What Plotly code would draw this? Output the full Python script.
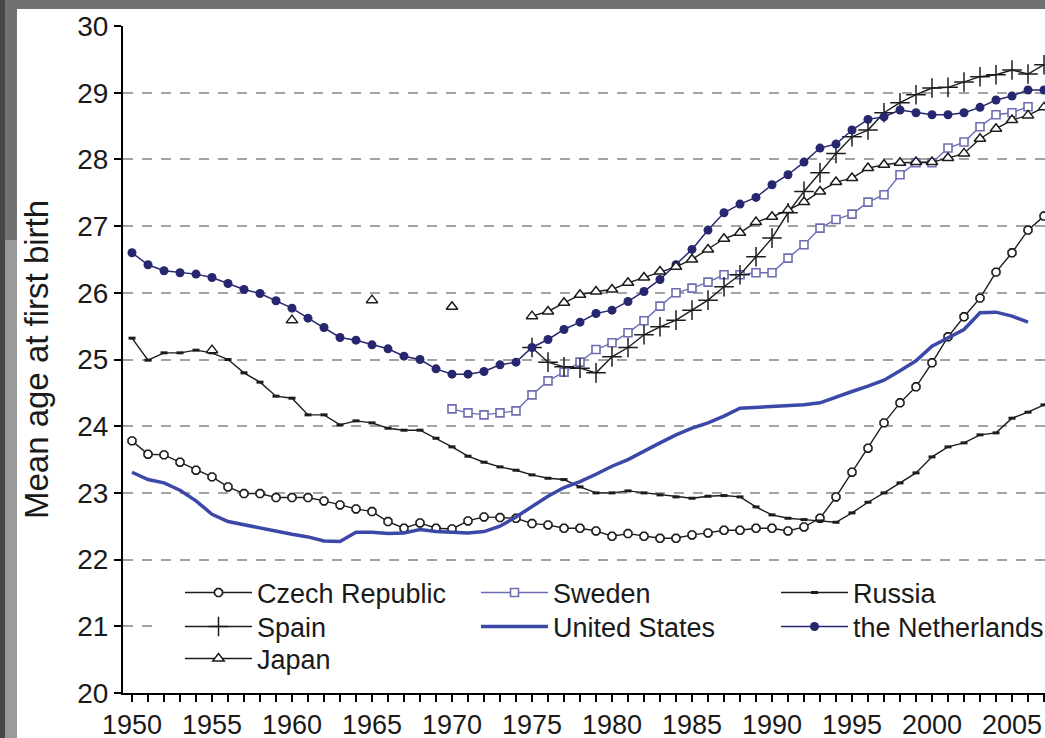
import plotly.graph_objects as go

# Mean age of mothers at first birth, by country
years = list(range(1950, 2008))

czech = [23.78, 23.58, 23.57, 23.46, 23.34, 23.24, 23.09, 22.99, 22.99, 22.93,
         22.93, 22.93, 22.88, 22.82, 22.76, 22.72, 22.57, 22.47, 22.55, 22.47,
         22.46, 22.58, 22.64, 22.63, 22.62, 22.54, 22.52, 22.47, 22.47, 22.43,
         22.35, 22.39, 22.35, 22.32, 22.32, 22.37, 22.40, 22.44, 22.44, 22.47,
         22.47, 22.43, 22.49, 22.62, 22.94, 23.31, 23.67, 24.05, 24.35, 24.59,
         24.95, 25.34, 25.64, 25.92, 26.31, 26.60, 26.94, 27.15]

sweden_years = list(range(1970, 2007))
sweden = [24.26, 24.20, 24.17, 24.20, 24.23, 24.47, 24.68, 24.81, 24.96, 25.15,
          25.25, 25.40, 25.58, 25.80, 26.00, 26.07, 26.16, 26.27, 26.27, 26.30,
          26.30, 26.52, 26.72, 26.97, 27.10, 27.18, 27.36, 27.47, 27.77, 27.95,
          27.95, 28.17, 28.26, 28.49, 28.67, 28.70, 28.79]

russia = [25.32, 24.99, 25.10, 25.10, 25.14, 25.10, 25.00, 24.80, 24.66, 24.45,
          24.42, 24.17, 24.17, 24.02, 24.08, 24.05, 23.97, 23.94, 23.94, 23.82,
          23.69, 23.55, 23.46, 23.39, 23.34, 23.27, 23.22, 23.20, 23.09, 23.00,
          23.00, 23.03, 23.00, 22.97, 22.94, 22.92, 22.95, 22.96, 22.94, 22.79,
          22.67, 22.62, 22.60, 22.58, 22.56, 22.70, 22.86, 23.00, 23.15, 23.30,
          23.54, 23.69, 23.75, 23.87, 23.90, 24.12, 24.21, 24.32]

spain_years = list(range(1975, 2008))
spain = [25.18, 24.96, 24.89, 24.87, 24.80, 25.04, 25.18, 25.37, 25.49, 25.59,
         25.74, 25.89, 26.09, 26.27, 26.54, 26.82, 27.20, 27.52, 27.80, 28.09,
         28.34, 28.44, 28.70, 28.85, 28.97, 29.07, 29.08, 29.16, 29.24, 29.27,
         29.34, 29.28, 29.42]

us_years = list(range(1950, 2007))
united_states = [23.31, 23.20, 23.15, 23.04, 22.88, 22.68, 22.57, 22.52, 22.47, 22.42,
                 22.38, 22.34, 22.28, 22.27, 22.41, 22.41, 22.39, 22.40, 22.45, 22.42,
                 22.41, 22.40, 22.42, 22.50, 22.64, 22.80, 22.95, 23.08, 23.17, 23.28,
                 23.40, 23.50, 23.63, 23.75, 23.87, 23.97, 24.05, 24.15, 24.27, 24.28,
                 24.30, 24.31, 24.32, 24.35, 24.44, 24.52, 24.60, 24.69, 24.83, 24.98,
                 25.20, 25.33, 25.45, 25.70, 25.71, 25.65, 25.56]

netherlands = [26.60, 26.42, 26.33, 26.30, 26.28, 26.23, 26.14, 26.05, 25.99, 25.88,
               25.77, 25.62, 25.48, 25.33, 25.29, 25.22, 25.16, 25.05, 25.00, 24.86,
               24.78, 24.78, 24.82, 24.92, 24.96, 25.18, 25.30, 25.45, 25.56, 25.69,
               25.74, 25.87, 26.02, 26.20, 26.42, 26.65, 26.94, 27.20, 27.33, 27.43,
               27.62, 27.77, 27.96, 28.17, 28.23, 28.44, 28.60, 28.64, 28.74, 28.70,
               28.67, 28.67, 28.70, 28.78, 28.89, 28.95, 29.04, 29.04]

# Japan: quinquennial observations before 1975, annual afterwards
japan_years = [1955, 1956, 1960, 1961, 1965, 1966, 1970, 1971] + list(range(1975, 2008))
japan = [25.14, None, 25.59, None, 25.89, None, 25.79, None,
         25.65, 25.72, 25.85, 25.97, 26.02, 26.05, 26.15, 26.23, 26.32, 26.39,
         26.50, 26.65, 26.81, 26.90, 27.06, 27.14, 27.24, 27.36, 27.52, 27.66,
         27.72, 27.87, 27.92, 27.95, 27.96, 27.96, 28.02, 28.09, 28.31, 28.46,
         28.59, 28.66, 28.78]

BLACK = "#1c1c1c"
NAVY = "#26276f"
SWEDE = "#6d6db4"
USBLUE = "#3b48a8"

W, H = 1045, 738
ML, MT, MB, MR = 123, 26, 45, 0
pw, ph = W - ML - MR, H - MT - MB
X0 = 1950 - 9 / 16
X1 = 1950 + (W - 132) / 16


def px_x(v):
    return (v - ML) / pw


def px_y(v):
    return (H - MB - v) / ph


def data_x(v):
    return X0 + (X1 - X0) * px_x(v)


def data_y(v):
    return 20 + 10 * px_y(v)


# legend key grid: three columns, three rows (pixel anchors of the text)
col_text = [257, 553, 853]
row_mid = [593, 627, 659]
key_slots = {
    "legend": (0, 0), "legend2": (1, 0), "legend3": (2, 0),
    "legend4": (0, 1), "legend5": (1, 1), "legend6": (2, 1),
    "legend7": (0, 2),
}

fig = go.Figure()

fig.add_trace(go.Scatter(
    x=years, y=czech, name="Czech Republic", mode="lines+markers", legend="legend",
    line=dict(color=BLACK, width=1.4),
    marker=dict(symbol="octagon", size=8.5, color="white", line=dict(color=BLACK, width=1.6))))
fig.add_trace(go.Scatter(
    x=sweden_years, y=sweden, name="Sweden", mode="lines+markers", legend="legend2",
    line=dict(color=SWEDE, width=1.4),
    marker=dict(symbol="square", size=8, color="white", line=dict(color=SWEDE, width=1.6))))
fig.add_trace(go.Scatter(
    x=years, y=russia, name="Russia", mode="lines+markers", legend="legend3",
    line=dict(color=BLACK, width=1.4),
    marker=dict(symbol="line-ew", size=5, line=dict(color=BLACK, width=3))))
fig.add_trace(go.Scatter(
    x=spain_years, y=spain, name="Spain", mode="lines+markers", legend="legend4",
    line=dict(color=BLACK, width=1.4),
    marker=dict(symbol="cross-thin", size=14, line=dict(color=BLACK, width=1.5))))
fig.add_trace(go.Scatter(
    x=us_years, y=united_states, name="United States", mode="lines", legend="legend5",
    line=dict(color=USBLUE, width=3.5)))
fig.add_trace(go.Scatter(
    x=years, y=netherlands, name="the Netherlands", mode="lines+markers", legend="legend6",
    line=dict(color=NAVY, width=1.5),
    marker=dict(symbol="circle", size=9, color=NAVY)))
fig.add_trace(go.Scatter(
    x=japan_years, y=japan, name="Japan", mode="lines+markers", connectgaps=False,
    legend="legend7",
    line=dict(color=BLACK, width=1.4),
    marker=dict(symbol="triangle-up", size=10, color="white", line=dict(color=BLACK, width=1.5))))

# framed white page on a grey surround
shapes = [
    dict(type="rect", xref="paper", yref="paper", layer="below",
         x0=px_x(17), x1=px_x(W + 5), y0=px_y(H + 5), y1=px_y(9),
         fillcolor="white", line=dict(width=0)),
    dict(type="rect", xref="paper", yref="paper", layer="below",
         x0=px_x(5), x1=px_x(17), y0=px_y(H + 5), y1=px_y(240),
         fillcolor="#9a9a9a", line=dict(width=0)),
    dict(type="rect", xref="paper", yref="paper", layer="below",
         x0=px_x(-5), x1=px_x(5), y0=px_y(H + 5), y1=px_y(-5),
         fillcolor="#474747", line=dict(width=0)),
    # white panel behind the key, hiding the grid there
    dict(type="rect", xref="x", yref="y", layer="between",
         x0=data_x(155), x1=data_x(W + 5), y0=data_y(688), y1=data_y(572),
         fillcolor="white", line=dict(width=0)),
]

TEXT_OFFSET = 77  # distance from legend anchor to its label text
legend_layouts = {}
for key, (c, r) in key_slots.items():
    legend_layouts[key] = dict(
        x=px_x(col_text[c] - TEXT_OFFSET), xanchor="left",
        y=px_y(row_mid[r]), yanchor="middle",
        bgcolor="rgba(0,0,0,0)", borderwidth=0, font=dict(size=27),
        itemwidth=67, itemclick=False, itemdoubleclick=False)

fig.update_layout(
    width=W, height=H,
    margin=dict(l=ML, r=MR, t=MT, b=MB, pad=0, autoexpand=False),
    paper_bgcolor="#717171", plot_bgcolor="white",
    font=dict(family="Liberation Sans, Arial, sans-serif", color="#1a1a1a", size=26),
    shapes=shapes,
    showlegend=True,
    xaxis=dict(
        range=[X0, X1],
        tick0=1950, dtick=5, ticks="outside", ticklen=7, tickwidth=1.5, tickcolor="black",
        minor=dict(dtick=1, ticks="outside", ticklen=7, tickwidth=1.5, tickcolor="black"),
        showgrid=False, zeroline=False, showline=True, linecolor="black", linewidth=2,
        tickfont=dict(size=27)),
    yaxis=dict(
        range=[20, 30], dtick=1, ticks="outside", ticklen=7, tickwidth=1.5, tickcolor="black",
        showgrid=True, gridcolor="#a3a3a3", gridwidth=1.5, griddash="10px,9px",
        zeroline=False, showline=True, linecolor="black", linewidth=2,
        tickfont=dict(size=28),
        title=dict(text="Mean age at first birth", font=dict(size=33), standoff=19)),
    **legend_layouts,
)

fig.write_html("out.html")
